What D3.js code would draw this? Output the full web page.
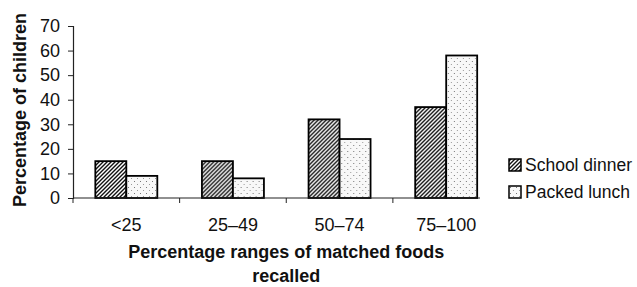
<!DOCTYPE html>
<html>
<head>
<meta charset="utf-8">
<script src="https://cdn.jsdelivr.net/npm/d3@7"></script>
<style>
    body { margin: 0; background: #fff; }
    text { font-family: "Liberation Sans", Arial, sans-serif; fill: #111; }
    .axis-title { font-weight: bold; font-size: 18px; }
    .tick-label { font-size: 18px; }
    .legend-label { font-size: 17.5px; }
</style>
</head>
<body>
<div id="chart"></div>
<script>

// data
var categories = ["<25", "25\u201349", "50\u201374", "75\u2013100"];
var seriesNames = ["School dinner", "Packed lunch"];
var schoolDinner = [15, 15, 32, 37];
var packedLunch = [9, 8, 24, 58];
var yTicks = [0, 10, 20, 30, 40, 50, 60, 70];

var width = 637, height = 287;

var svg = d3.select("#chart").append("svg")
    .attr("width", width)
    .attr("height", height);

// fill patterns: hatching for school dinner, stipple for packed lunch
var defs = svg.append("defs");

var hatch = defs.append("pattern")
    .attr("id", "hatch")
    .attr("patternUnits", "userSpaceOnUse")
    .attr("width", 4)
    .attr("height", 4);
hatch.append("rect").attr("width", 4).attr("height", 4).attr("fill", "#fff");
hatch.append("path")
    .attr("d", "M-1,1 L1,-1 M0,4 L4,0 M3,5 L5,3")
    .attr("stroke", "#111")
    .attr("stroke-width", 1.4);

var dots = defs.append("pattern")
    .attr("id", "dots")
    .attr("patternUnits", "userSpaceOnUse")
    .attr("width", 6)
    .attr("height", 6);
dots.append("rect").attr("width", 6).attr("height", 6).attr("fill", "#f8f8f8");
dots.append("rect").attr("x", 1).attr("y", 1).attr("width", 1).attr("height", 1).attr("fill", "#777");
dots.append("rect").attr("x", 4).attr("y", 4).attr("width", 1).attr("height", 1).attr("fill", "#999");

var fills = ["url(#hatch)", "url(#dots)"];

// scales
var x = d3.scaleBand()
    .domain(categories)
    .range([73, 499.5])
    .padding(0);

var xInner = d3.scaleBand()
    .domain(seriesNames)
    .range([0, x.bandwidth()])
    .paddingInner(0)
    .paddingOuter(0.72);

var y = d3.scaleLinear()
    .domain([0, 70])
    .range([198, 26]);

var rows = categories.map(function(c, i) {
    return { cat: c, values: [schoolDinner[i], packedLunch[i]] };
});

// y axis
var yAxis = svg.append("g")
    .attr("transform", "translate(73,0)")
    .call(d3.axisLeft(y).tickValues(yTicks).tickSize(5).tickPadding(8));
yAxis.attr("font-family", null).attr("font-size", null);
yAxis.select(".domain").attr("stroke", "#222").attr("stroke-width", 1.2);
yAxis.selectAll(".tick line").attr("stroke", "#222");
yAxis.selectAll(".tick text")
    .attr("class", "tick-label")
    .attr("fill", "#111");

// legend box first, so the x axis reads as cut by it like in the original
var legendBoxX = 480;

// bars
var groups = svg.selectAll(".group")
    .data(rows)
    .enter().append("g")
    .attr("class", "group")
    .attr("transform", function(d) { return "translate(" + x(d.cat) + ",0)"; });

groups.selectAll("rect")
    .data(function(d) { return d.values.map(function(v, i) { return { name: seriesNames[i], value: v, i: i }; }); })
    .enter().append("rect")
    .attr("x", function(d) { return xInner(d.name); })
    .attr("width", xInner.bandwidth())
    .attr("y", function(d) { return y(d.value); })
    .attr("height", function(d) { return y(0) - y(d.value); })
    .attr("fill", function(d) { return fills[d.i]; })
    .attr("stroke", "#000")
    .attr("stroke-width", 1.8);

// x axis: line, boundary ticks, labels at band centres
var xAxis = svg.append("g").attr("class", "x-axis");
xAxis.append("line")
    .attr("x1", x.range()[0])
    .attr("x2", legendBoxX)
    .attr("y1", y(0))
    .attr("y2", y(0))
    .attr("stroke", "#222")
    .attr("stroke-width", 1.2);
xAxis.selectAll(".xtick")
    .data(categories)
    .enter().append("line")
    .attr("class", "xtick")
    .attr("x1", function(d) { return x(d); })
    .attr("x2", function(d) { return x(d); })
    .attr("y1", y(0))
    .attr("y2", y(0) + 5)
    .attr("stroke", "#222");
xAxis.selectAll(".xlabel")
    .data(categories)
    .enter().append("text")
    .attr("class", "tick-label xlabel")
    .attr("x", function(d) { return x(d) + x.bandwidth() / 2; })
    .attr("y", 231)
    .attr("text-anchor", "middle")
    .text(function(d) { return d; });

// legend
var legendItems = svg.append("g").attr("class", "legend")
    .selectAll(".item")
    .data(seriesNames)
    .enter().append("g")
    .attr("class", "item")
    .attr("transform", function(d, i) { return "translate(509," + (165 + i * 27) + ")"; });

legendItems.append("rect")
    .attr("x", 0)
    .attr("y", -6)
    .attr("width", 12)
    .attr("height", 12)
    .attr("fill", function(d, i) { return fills[i]; })
    .attr("stroke", "#000")
    .attr("stroke-width", 1.5);

legendItems.append("text")
    .attr("class", "legend-label")
    .attr("x", 16)
    .attr("y", 0)
    .attr("dy", "0.36em")
    .text(function(d) { return d; });

// axis titles
svg.append("text")
    .attr("class", "axis-title")
    .attr("text-anchor", "middle")
    .attr("transform", "translate(26,110) rotate(-90)")
    .text("Percentage of children");

var xTitle = svg.append("text")
    .attr("class", "axis-title")
    .attr("text-anchor", "middle");
xTitle.append("tspan")
    .attr("x", (x.range()[0] + x.range()[1]) / 2)
    .attr("y", 258)
    .text("Percentage ranges of matched foods");
xTitle.append("tspan")
    .attr("x", (x.range()[0] + x.range()[1]) / 2)
    .attr("y", 282)
    .text("recalled");

</script>
</body>
</html>
